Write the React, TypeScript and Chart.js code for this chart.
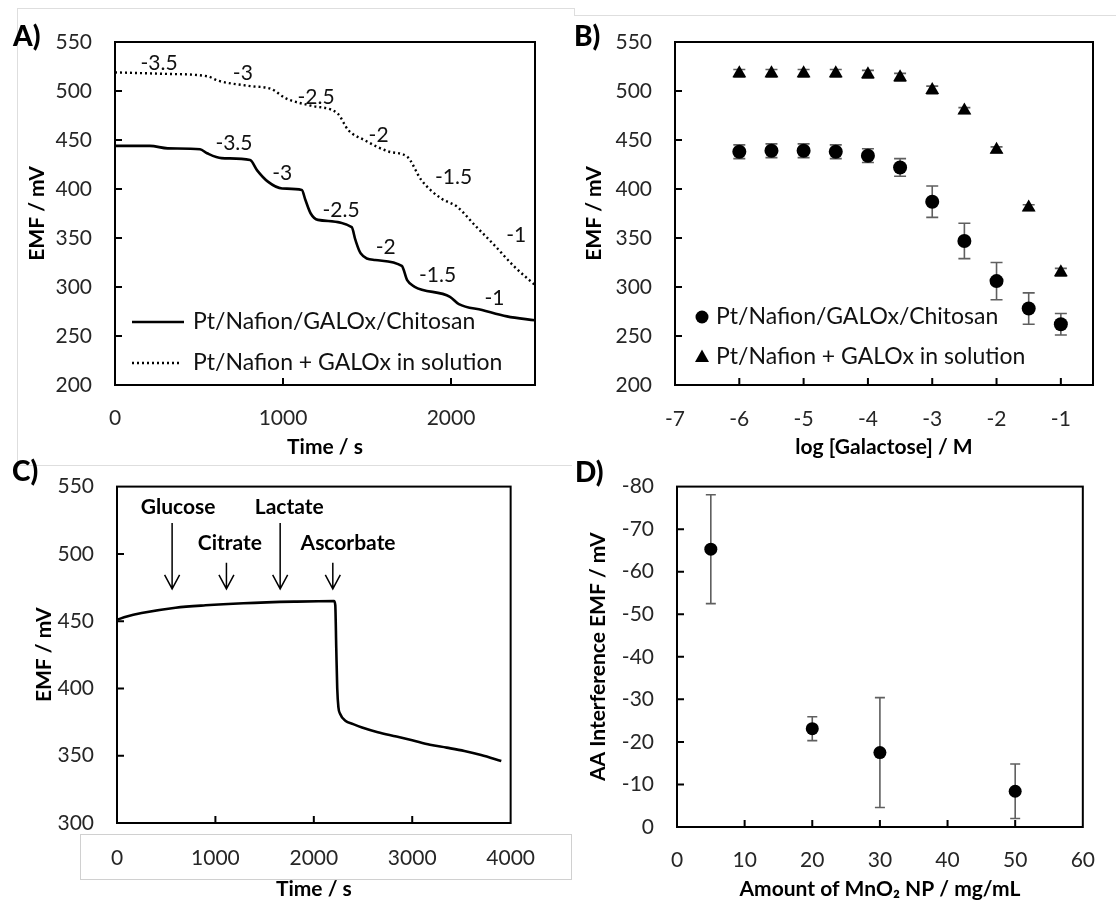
import React, { useEffect, useRef } from 'react';
import { Chart, registerables } from 'chart.js';

Chart.register(...registerables);

const FONT = "Lato, 'Noto Sans', 'DejaVu Sans', sans-serif";
const TICK_COLOR = '#262626';

// ---------------- Panel A: EMF vs time ----------------
const aSolidTime = [0, 208, 314, 506, 548, 634, 804, 846, 910, 995, 1112, 1133, 1165, 1208, 1409, 1431, 1462, 1548, 1707, 1739, 1781, 1994, 2047, 2185, 2333, 2500];
const aSolidEmf = [444, 444, 441.5, 440.5, 436.5, 431.5, 429.5, 419, 407.5, 400.5, 399, 389, 375, 368.5, 361, 348, 334.5, 327.5, 321.5, 307, 300.5, 290, 282.5, 276.5, 270, 266];
const aDotTime = [0, 295, 550, 614, 805, 931, 1017, 1166, 1325, 1389, 1484, 1633, 1739, 1824, 1940, 2036, 2142, 2248, 2376, 2500];
const aDotEmf = [519, 517.5, 515, 510.5, 505, 502, 492.5, 485, 477, 460, 450, 438, 433, 409, 390.5, 382, 363, 344.5, 321, 302];
const aStepLabels = ['-3.5', '-3', '-2.5', '-2', '-1.5', '-1'];
const aSolidLabelTime = [708, 995, 1346, 1611, 1920, 2259];
const aSolidLabelEmf = [446.6, 416, 378.6, 341, 312, 288.5];
const aDotLabelTime = [262, 761, 1197, 1569, 2015, 2388];
const aDotLabelEmf = [528.6, 518, 494, 455, 412.5, 353];
const aTimeTicks = [0, 1000, 2000];
const emfTicksAB = [200, 250, 300, 350, 400, 450, 500, 550];
const seriesNames = ['Pt/Nafion/GALOx/Chitosan', 'Pt/Nafion + GALOx in solution'];

// ---------------- Panel B: calibration ----------------
const bLogConc = [-6, -5.5, -5, -4.5, -4, -3.5, -3, -2.5, -2, -1.5, -1];
const bChitosan = [438, 439, 439, 438, 434, 422, 387, 347, 306, 278, 262];
const bChitosanErr = [7, 7, 7, 7, 7, 9, 16, 18, 19, 16, 11];
const bSolution = [518, 518, 518, 518, 517, 514, 501, 480, 440, 381, 315];
const bSolutionErr = [4, 4, 4, 4, 4, 4, 4, 3, 3, 3, 4];
const bLogTicks = [-7, -6, -5, -4, -3, -2, -1];

// ---------------- Panel C: interference ----------------
const cTime = [0, 100, 250, 595, 900, 1285, 1800, 2205, 2218, 2228, 2238, 2250, 2268, 2320, 2400, 2490, 2650, 2840, 3000, 3180, 3350, 3530, 3700, 3905];
const cEmf = [451, 453.5, 456, 460, 461.8, 463.3, 464.5, 465, 462, 430, 400, 386, 381, 376, 373.5, 371, 367.5, 364.3, 361.5, 358.2, 356, 353.5, 350.5, 346];
const cAnalytes = ['Glucose', 'Citrate', 'Lactate', 'Ascorbate'];
const cArrowTime = [560, 1112, 1658, 2193];
const cArrowStart = [523, 493.4, 523, 493.4];
const cArrowEnd = [474, 474, 474, 474];
const cTextTime = [622, 1147, 1750, 2348];
const cTextEmf = [535, 507.7, 535, 507.7];
const cTimeTicks = [0, 1000, 2000, 3000, 4000];
const cEmfTicks = [300, 350, 400, 450, 500, 550];

// ---------------- Panel D: MnO2 amount ----------------
const dAmount = [5, 20, 30, 50];
const dInterference = [-65.3, -23.1, -17.5, -8.4];
const dErr = [12.8, 2.8, 12.9, 6.4];
const dAmountTicks = [0, 10, 20, 30, 40, 50, 60];
const dInterferenceTicks = [-80, -70, -60, -50, -40, -30, -20, -10, 0];

const tickFont = { family: FONT, size: 21 };
const titleFont = { family: FONT, size: 21, weight: 'bold' as const };

function pts(xs: number[], ys: number[]) {
  return xs.map((x, i) => ({ x, y: ys[i] }));
}

function setTicks(values: number[]) {
  return (s: any) => { s.ticks = values.map((v) => ({ value: v })); };
}

function yAxis(min: number, max: number, tickValues: number[], title: string, width: number, titleOffset: number, reverse = false): any {
  return {
    type: 'linear', min, max, reverse,
    afterBuildTicks: setTicks(tickValues),
    ticks: { padding: 23, color: TICK_COLOR, font: tickFont, autoSkip: false, callback: (v: any) => String(v) },
    grid: { display: false, drawTicks: false },
    border: { display: false },
    title: { display: true, text: title, color: '#000', font: titleFont, padding: { top: titleOffset, bottom: 0 } },
    afterFit: (s: any) => { s.width = width; },
  };
}

function xAxis(min: number, max: number, tickValues: number[], title: string, height: number, pad: number): any {
  return {
    type: 'linear', min, max,
    afterBuildTicks: setTicks(tickValues),
    ticks: { padding: pad, color: TICK_COLOR, font: tickFont, autoSkip: false, maxRotation: 0, callback: (v: any) => String(v) },
    grid: { display: false, drawTicks: false },
    border: { display: false },
    title: { display: true, text: title, color: '#000', font: titleFont, padding: { top: 0, bottom: 0 } },
    afterFit: (s: any) => { s.height = height; },
  };
}

const framePlugin = {
  id: 'frame',
  afterDatasetsDraw(chart: any) {
    const { ctx, chartArea: a, scales } = chart;
    const x = scales.x, y = scales.y;
    ctx.save();
    ctx.strokeStyle = '#000';
    ctx.lineWidth = 2;
    ctx.beginPath();
    x.ticks.forEach((t: any) => {
      const px = x.getPixelForValue(t.value);
      if (px > a.left + 2 && px < a.right - 2) { ctx.moveTo(px, a.bottom); ctx.lineTo(px, a.bottom - 7); }
    });
    y.ticks.forEach((t: any) => {
      const py = y.getPixelForValue(t.value);
      if (py > a.top + 2 && py < a.bottom - 2) { ctx.moveTo(a.left, py); ctx.lineTo(a.left + 7, py); }
    });
    ctx.stroke();
    ctx.strokeRect(a.left, a.top, a.right - a.left, a.bottom - a.top);
    ctx.restore();
  },
};

const errorBarPlugin = {
  id: 'errorBars',
  beforeDatasetsDraw(chart: any) {
    const { ctx, scales } = chart;
    const y = scales.y;
    chart.data.datasets.forEach((ds: any, i: number) => {
      const errs = ds.errorBars;
      if (!errs) return;
      const meta = chart.getDatasetMeta(i);
      const cap = ds.errorCap || 5;
      ctx.save();
      ctx.strokeStyle = '#5f5f5f';
      ctx.lineWidth = 1.6;
      meta.data.forEach((el: any, j: number) => {
        const v = ds.data[j].y;
        const e = errs[j];
        const y1 = y.getPixelForValue(v + e);
        const y2 = y.getPixelForValue(v - e);
        ctx.beginPath();
        ctx.moveTo(el.x, y1); ctx.lineTo(el.x, y2);
        ctx.moveTo(el.x - cap, y1); ctx.lineTo(el.x + cap, y1);
        ctx.moveTo(el.x - cap, y2); ctx.lineTo(el.x + cap, y2);
        ctx.stroke();
      });
      ctx.restore();
    });
  },
};

function panelLabel(text: string, x: number, y: number) {
  return {
    id: 'panelLabel' + text.charAt(0),
    afterDraw(chart: any) {
      const ctx = chart.ctx;
      ctx.save();
      ctx.font = `900 28px ${FONT}`;
      ctx.fillStyle = '#000';
      ctx.textAlign = 'left';
      ctx.textBaseline = 'middle';
      ctx.fillText(text, x, y);
      ctx.restore();
    },
  };
}

const panelAExtras = {
  id: 'panelAExtras',
  afterDatasetsDraw(chart: any) {
    const { ctx, chartArea: a, scales: { x, y } } = chart;
    ctx.save();
    ctx.font = `21px ${FONT}`;
    ctx.fillStyle = '#111';
    ctx.textAlign = 'center';
    ctx.textBaseline = 'middle';
    aStepLabels.forEach((lab, i) => {
      ctx.fillText(lab, x.getPixelForValue(aSolidLabelTime[i]), y.getPixelForValue(aSolidLabelEmf[i]));
      ctx.fillText(lab, x.getPixelForValue(aDotLabelTime[i]), y.getPixelForValue(aDotLabelEmf[i]));
    });
    // legend
    const ly1 = a.bottom - 63, ly2 = a.bottom - 22;
    ctx.strokeStyle = '#000';
    ctx.lineWidth = 2.6;
    ctx.beginPath(); ctx.moveTo(a.left + 17, ly1); ctx.lineTo(a.left + 69, ly1); ctx.stroke();
    ctx.setLineDash([2, 3]);
    ctx.lineWidth = 2.4;
    ctx.beginPath(); ctx.moveTo(a.left + 17, ly2); ctx.lineTo(a.left + 67, ly2); ctx.stroke();
    ctx.setLineDash([]);
    ctx.font = `23px ${FONT}`;
    ctx.textAlign = 'left';
    ctx.fillText(seriesNames[0], a.left + 78, ly1);
    ctx.fillText(seriesNames[1], a.left + 78, ly2);
    ctx.restore();
  },
};

const panelBLegend = {
  id: 'panelBLegend',
  afterDatasetsDraw(chart: any) {
    const { ctx, chartArea: a } = chart;
    const ly1 = a.bottom - 68, ly2 = a.bottom - 28;
    const mx = a.left + 27;
    ctx.save();
    ctx.fillStyle = '#000';
    ctx.beginPath(); ctx.arc(mx, ly1, 6.5, 0, Math.PI * 2); ctx.fill();
    ctx.beginPath();
    ctx.moveTo(mx, ly2 - 7.5); ctx.lineTo(mx + 7, ly2 + 5); ctx.lineTo(mx - 7, ly2 + 5); ctx.closePath(); ctx.fill();
    ctx.font = `23px ${FONT}`;
    ctx.fillStyle = '#111';
    ctx.textAlign = 'left';
    ctx.textBaseline = 'middle';
    ctx.fillText(seriesNames[0], a.left + 41, ly1);
    ctx.fillText(seriesNames[1], a.left + 41, ly2);
    ctx.restore();
  },
};

const panelCArrows = {
  id: 'panelCArrows',
  afterDatasetsDraw(chart: any) {
    const { ctx, scales: { x, y } } = chart;
    ctx.save();
    ctx.strokeStyle = '#000';
    ctx.lineWidth = 1.5;
    cAnalytes.forEach((name, i) => {
      const px = x.getPixelForValue(cArrowTime[i]);
      const y1 = y.getPixelForValue(cArrowStart[i]);
      const y2 = y.getPixelForValue(cArrowEnd[i]);
      ctx.beginPath();
      ctx.moveTo(px, y1); ctx.lineTo(px, y2);
      ctx.moveTo(px - 7.5, y2 - 14); ctx.lineTo(px, y2); ctx.lineTo(px + 7.5, y2 - 14);
      ctx.stroke();
    });
    ctx.font = `bold 21px ${FONT}`;
    ctx.fillStyle = '#000';
    ctx.textAlign = 'center';
    ctx.textBaseline = 'middle';
    cAnalytes.forEach((name, i) => {
      ctx.fillText(name, x.getPixelForValue(cTextTime[i]), y.getPixelForValue(cTextEmf[i]));
    });
    ctx.restore();
  },
};

function buildA(): any {
  return {
    type: 'line',
    data: {
      datasets: [
        { label: seriesNames[0], data: pts(aSolidTime, aSolidEmf), borderColor: '#000', borderWidth: 2.6, pointRadius: 0, cubicInterpolationMode: 'monotone', fill: false },
        { label: seriesNames[1], data: pts(aDotTime, aDotEmf), borderColor: '#000', borderWidth: 2.4, borderDash: [2, 3], pointRadius: 0, cubicInterpolationMode: 'monotone', fill: false },
      ],
    },
    options: {
      responsive: false, animation: false, devicePixelRatio: 1,
      layout: { padding: { top: 42, right: 23, left: 0, bottom: 0 } },
      plugins: { legend: { display: false }, tooltip: { enabled: false } },
      scales: {
        x: xAxis(0, 2500, aTimeTicks, 'Time / s', 75, 21),
        y: yAxis(200, 550, emfTicksAB, 'EMF / mV', 115, 25),
      },
    },
    plugins: [framePlugin, panelAExtras, panelLabel('A)', 13, 37)],
  };
}

function buildB(): any {
  return {
    type: 'scatter',
    data: {
      datasets: [
        { label: seriesNames[0], data: pts(bLogConc, bChitosan), errorBars: bChitosanErr, errorCap: 6, pointStyle: 'circle', pointRadius: 7, backgroundColor: '#000', borderColor: '#000', borderWidth: 0 },
        { label: seriesNames[1], data: pts(bLogConc, bSolution), errorBars: bSolutionErr, errorCap: 6, pointStyle: 'triangle', pointRadius: 8, backgroundColor: '#000', borderColor: '#000', borderWidth: 0 },
      ],
    },
    options: {
      responsive: false, animation: false, devicePixelRatio: 1,
      layout: { padding: { top: 42, right: 23, left: 0, bottom: 0 } },
      plugins: { legend: { display: false }, tooltip: { enabled: false } },
      scales: {
        x: xAxis(-7, -0.5, bLogTicks, 'log [Galactose] / M', 75, 22),
        y: yAxis(200, 550, emfTicksAB, 'EMF / mV', 117, 24),
      },
    },
    plugins: [errorBarPlugin, framePlugin, panelBLegend, panelLabel('B)', 16, 37)],
  };
}

function buildC(): any {
  return {
    type: 'line',
    data: {
      datasets: [
        { label: 'EMF', data: pts(cTime, cEmf), borderColor: '#000', borderWidth: 2.6, pointRadius: 0, cubicInterpolationMode: 'monotone', fill: false },
      ],
    },
    options: {
      responsive: false, animation: false, devicePixelRatio: 1,
      layout: { padding: { top: 23, right: 27, left: 0, bottom: 0 } },
      plugins: { legend: { display: false }, tooltip: { enabled: false } },
      scales: {
        x: xAxis(0, 4000, cTimeTicks, 'Time / s', 79, 23),
        y: yAxis(300, 550, cEmfTicks, 'EMF / mV', 117, 32),
      },
    },
    plugins: [framePlugin, panelCArrows, panelLabel('C)', 12, 21)],
  };
}

function buildD(): any {
  return {
    type: 'scatter',
    data: {
      datasets: [
        { label: 'AA interference', data: pts(dAmount, dInterference), errorBars: dErr, errorCap: 5, pointStyle: 'circle', pointRadius: 6.5, backgroundColor: '#000', borderColor: '#000', borderWidth: 0 },
      ],
    },
    options: {
      responsive: false, animation: false, devicePixelRatio: 1,
      layout: { padding: { top: 27, right: 16, left: 0, bottom: 0 } },
      plugins: { legend: { display: false }, tooltip: { enabled: false } },
      scales: {
        x: xAxis(0, 60, dAmountTicks, 'Amount of MnO\u2082 NP / mg/mL', 75, 21),
        y: yAxis(-80, 0, dInterferenceTicks, 'AA Interference EMF / mV', 119, 28, true),
      },
    },
    plugins: [errorBarPlugin, framePlugin, panelLabel('D)', 17, 22)],
  };
}

function ChartCanvas(props: { left: number; top: number; width: number; height: number; build: () => any }) {
  const ref = useRef<HTMLCanvasElement>(null);
  useEffect(() => {
    const chart = new Chart(ref.current as HTMLCanvasElement, props.build());
    return () => chart.destroy();
  }, []);
  return (
    <canvas
      ref={ref}
      width={props.width}
      height={props.height}
      style={{ position: 'absolute', left: props.left, top: props.top, width: props.width, height: props.height }}
    />
  );
}

const faint = '#dedede';

export default function App() {
  return (
    <div style={{ position: 'absolute', left: 0, top: 0, width: 1116, height: 902, background: '#fff', overflow: 'hidden' }}>
      {/* faint panel frames from the original composite */}
      <div style={{ position: 'absolute', left: 17, top: 8, width: 557, height: 1, background: faint }} />
      <div style={{ position: 'absolute', left: 17, top: 8, width: 1, height: 457, background: faint }} />
      <div style={{ position: 'absolute', left: 17, top: 465, width: 555, height: 1, background: faint }} />
      <div style={{ position: 'absolute', left: 574, top: 8, width: 1, height: 7, background: faint }} />
      <div style={{ position: 'absolute', left: 574, top: 15, width: 542, height: 1, background: faint }} />
      <div style={{ position: 'absolute', left: 80, top: 834, width: 492, height: 46, border: '1px solid #d0d0d0', boxSizing: 'border-box' }} />
      <ChartCanvas left={0} top={0} width={558} height={460} build={buildA} />
      <ChartCanvas left={558} top={0} width={558} height={460} build={buildB} />
      <ChartCanvas left={0} top={451} width={558} height={451} build={buildC} />
      <ChartCanvas left={558} top={451} width={558} height={451} build={buildD} />
    </div>
  );
}
